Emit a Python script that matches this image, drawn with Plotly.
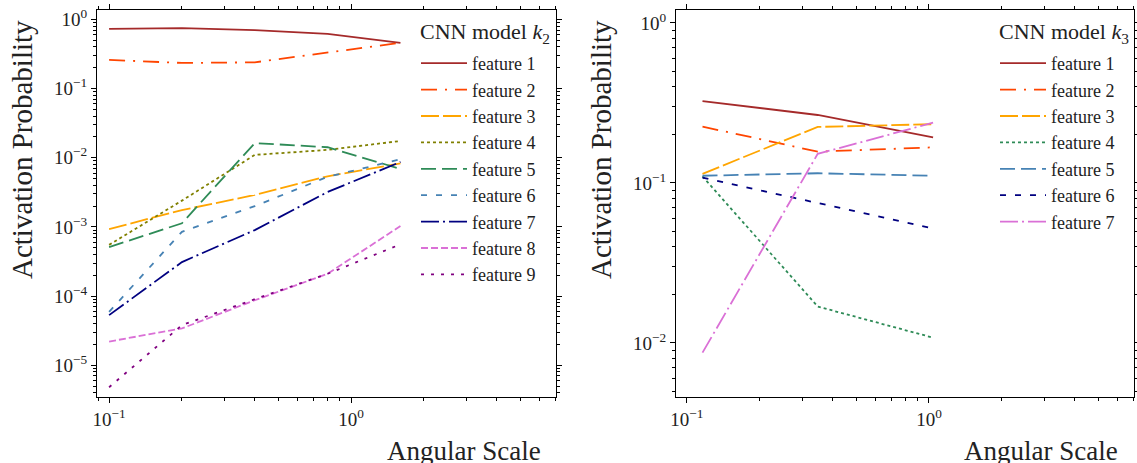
import plotly.graph_objects as go

# ---------------- data ----------------
scales_k2 = [0.1, 0.2, 0.4, 0.8, 1.6]
k2_f1 = [0.73, 0.75, 0.70, 0.62, 0.46]
k2_f2 = [0.26, 0.235, 0.24, 0.33, 0.46]
k2_f3 = [9.3e-4, 1.75e-3, 2.9e-3, 5.4e-3, 8.3e-3]
k2_f4 = [5.5e-4, 2.4e-3, 1.1e-2, 1.3e-2, 1.75e-2]
k2_f5 = [5.1e-4, 1.13e-3, 1.63e-2, 1.42e-2, 6.9e-3]
k2_f6 = [5.9e-5, 8.5e-4, 2.0e-3, 5.3e-3, 9.5e-3]
k2_f7 = [5.3e-5, 3.1e-4, 9.0e-4, 3.2e-3, 8.7e-3]
k2_f8 = [2.2e-5, 3.4e-5, 8.7e-5, 2.1e-4, 1.03e-3]
k2_f9 = [4.8e-6, 3.8e-5, 9.0e-5, 2.1e-4, 5.6e-4]

scales_k3 = [0.116, 0.347, 1.04]
k3_f1 = [0.325, 0.266, 0.193]
k3_f2 = [0.225, 0.157, 0.167]
k3_f3 = [0.114, 0.224, 0.233]
k3_f4 = [0.11, 0.0169, 0.0108]
k3_f5 = [0.111, 0.115, 0.111]
k3_f6 = [0.108, 0.0747, 0.052]
k3_f7 = [0.0087, 0.152, 0.238]

labels_k2 = ["feature %d" % i for i in range(1, 10)]
labels_k3 = ["feature %d" % i for i in range(1, 8)]

x_tick_vals = [0.1, 1]
x_tick_text = ["10<sup>\u22121</sup>", "10<sup>0</sup>"]
y_tick_vals_k2 = [1e-5, 1e-4, 1e-3, 1e-2, 1e-1, 1]
y_tick_text_k2 = ["10<sup>\u22125</sup>", "10<sup>\u22124</sup>", "10<sup>\u22123</sup>",
                  "10<sup>\u22122</sup>", "10<sup>\u22121</sup>", "10<sup>0</sup>"]
y_tick_vals_k3 = [1e-2, 1e-1, 1]
y_tick_text_k3 = ["10<sup>\u22122</sup>", "10<sup>\u22121</sup>", "10<sup>0</sup>"]

x_title = "Angular Scale"
y_title = "Activation Probability"
legend_title_k2 = "CNN model <i>k</i><sub>2</sub>"
legend_title_k3 = "CNN model <i>k</i><sub>3</sub>"

# ---------------- styles ----------------
FONT = "Liberation Serif"
styles_k2 = [
    ("#A52A2A", "solid"),
    ("#FF4500", "16px,8px,2px,8px"),
    ("#FFA500", "18px,4px"),
    ("#808000", "3px,3px"),
    ("#2E8B57", "15px,6px"),
    ("#4682B4", "6px,9px"),
    ("#000080", "18px,4px,2px,4px"),
    ("#DA70D6", "7px,3px"),
    ("#800080", "3px,7px"),
]
styles_k3 = [
    ("#A52A2A", "solid"),
    ("#FF4500", "16px,8px,2px,8px"),
    ("#FFA500", "18px,4px"),
    ("#2E8B57", "3px,3px"),
    ("#4682B4", "15px,6px"),
    ("#000080", "6px,9px"),
    ("#DA70D6", "18px,4px,2px,4px"),
]

fig = go.Figure()

series_k2 = [k2_f1, k2_f2, k2_f3, k2_f4, k2_f5, k2_f6, k2_f7, k2_f8, k2_f9]
for ys, lab, (c, d) in zip(series_k2, labels_k2, styles_k2):
    fig.add_trace(go.Scatter(x=scales_k2, y=ys, mode="lines", name=lab,
                             line=dict(color=c, dash=d, width=1.8),
                             xaxis="x", yaxis="y", legend="legend"))

series_k3 = [k3_f1, k3_f2, k3_f3, k3_f4, k3_f5, k3_f6, k3_f7]
for ys, lab, (c, d) in zip(series_k3, labels_k3, styles_k3):
    fig.add_trace(go.Scatter(x=scales_k3, y=ys, mode="lines", name=lab,
                             line=dict(color=c, dash=d, width=1.8),
                             xaxis="x2", yaxis="y2", legend="legend2"))

W, H = 1137, 463


def minor_vals(lo_exp, hi_exp):
    return [m * 10.0 ** e for e in range(lo_exp, hi_exp + 1) for m in range(2, 10)]


def ax(domain, rng, anchor, tv, tt, mv):
    return dict(type="log", domain=domain, range=rng, anchor=anchor,
                showgrid=False, zeroline=False, showline=True, linecolor="black",
                linewidth=1.2, mirror="allticks", ticks="outside", ticklen=5,
                tickwidth=1, tickcolor="black", tickmode="array",
                tickvals=tv, ticktext=tt,
                tickfont=dict(family=FONT, size=19, color="#222"),
                automargin=False,
                minor=dict(ticks="outside", ticklen=3, tickwidth=0.8,
                           tickcolor="black", showgrid=False,
                           tickmode="array", tickvals=mv))


ydom = [1 - 397 / H, 1 - 10 / H]
leg_common = dict(xanchor="left", yanchor="top", bgcolor="rgba(0,0,0,0)",
                  font=dict(family=FONT, size=18, color="#222"),
                  tracegroupgap=0, itemwidth=46)
fig.update_layout(
    width=W, height=H, margin=dict(l=0, r=0, t=0, b=0),
    paper_bgcolor="white", plot_bgcolor="white",
    font=dict(family=FONT, color="#222"),
    xaxis=ax([97 / W, 556 / W], [-1.05, 0.847], "y", x_tick_vals, x_tick_text,
             minor_vals(-2, 0)),
    yaxis=ax(ydom, [-5.46, 0.137], "x", y_tick_vals_k2, y_tick_text_k2,
             minor_vals(-6, 0)),
    xaxis2=ax([676 / W, 1134 / W], [-1.045, 0.847], "y2", x_tick_vals, x_tick_text,
              minor_vals(-2, 0)),
    yaxis2=ax(ydom, [-2.3375, 0.081], "x2", y_tick_vals_k3, y_tick_text_k3,
              minor_vals(-3, 0)),
    legend=dict(x=416 / W, y=1 - 45 / H, **leg_common),
    legend2=dict(x=995 / W, y=1 - 45 / H, **leg_common),
    showlegend=True,
)

for xc, t in [(418 / W, legend_title_k2), (997 / W, legend_title_k3)]:
    fig.add_annotation(text=t, x=xc, y=1 - 33 / H, xref="paper", yref="paper",
                       showarrow=False, font=dict(family=FONT, size=22, color="#222"),
                       xanchor="left", yanchor="middle")
for xc in [464 / W, 1041 / W]:
    fig.add_annotation(text=x_title, x=xc, y=1 - 451 / H, xref="paper", yref="paper",
                       showarrow=False, font=dict(family=FONT, size=27, color="#222"),
                       xanchor="center", yanchor="middle")
for xc in [22 / W, 601 / W]:
    fig.add_annotation(text=y_title, x=xc, y=1 - 150 / H, xref="paper", yref="paper",
                       showarrow=False, textangle=-90,
                       font=dict(family=FONT, size=29, color="#222"),
                       xanchor="center", yanchor="middle")

fig.write_html("out.html")
